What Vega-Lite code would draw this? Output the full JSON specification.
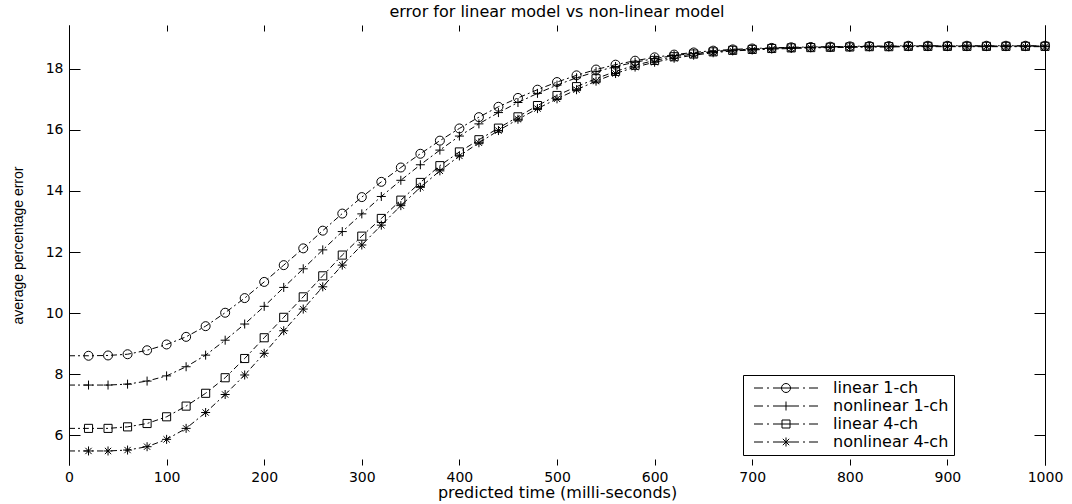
{
  "$schema": "https://vega.github.io/schema/vega-lite/v6.json",
  "width": 976,
  "height": 440,
  "autosize": {"type": "none"},
  "padding": {"left": 69, "top": 25, "right": 27, "bottom": 39},
  "background": "white",
  "config": {"view": {"stroke": null}, "font": "DejaVu Sans"},
  "title": {"text": "error for linear model vs non-linear model", "font": "DejaVu Sans", "fontSize": 16, "fontWeight": "normal", "color": "black", "anchor": "middle", "offset": 5},
  "data": {"values": [
    {"t": 0, "linear 1-ch": 8.60, "nonlinear 1-ch": 7.64, "linear 4-ch": 6.22, "nonlinear 4-ch": 5.48},
    {"t": 20, "linear 1-ch": 8.60, "nonlinear 1-ch": 7.64, "linear 4-ch": 6.22, "nonlinear 4-ch": 5.48},
    {"t": 40, "linear 1-ch": 8.61, "nonlinear 1-ch": 7.64, "linear 4-ch": 6.22, "nonlinear 4-ch": 5.48},
    {"t": 60, "linear 1-ch": 8.65, "nonlinear 1-ch": 7.67, "linear 4-ch": 6.27, "nonlinear 4-ch": 5.51},
    {"t": 80, "linear 1-ch": 8.78, "nonlinear 1-ch": 7.77, "linear 4-ch": 6.38, "nonlinear 4-ch": 5.62},
    {"t": 100, "linear 1-ch": 8.97, "nonlinear 1-ch": 7.94, "linear 4-ch": 6.60, "nonlinear 4-ch": 5.86},
    {"t": 120, "linear 1-ch": 9.22, "nonlinear 1-ch": 8.24, "linear 4-ch": 6.95, "nonlinear 4-ch": 6.22},
    {"t": 140, "linear 1-ch": 9.57, "nonlinear 1-ch": 8.62, "linear 4-ch": 7.37, "nonlinear 4-ch": 6.74},
    {"t": 160, "linear 1-ch": 10.01, "nonlinear 1-ch": 9.11, "linear 4-ch": 7.88, "nonlinear 4-ch": 7.33},
    {"t": 180, "linear 1-ch": 10.49, "nonlinear 1-ch": 9.64, "linear 4-ch": 8.51, "nonlinear 4-ch": 7.97},
    {"t": 200, "linear 1-ch": 11.02, "nonlinear 1-ch": 10.22, "linear 4-ch": 9.19, "nonlinear 4-ch": 8.68},
    {"t": 220, "linear 1-ch": 11.57, "nonlinear 1-ch": 10.84, "linear 4-ch": 9.86, "nonlinear 4-ch": 9.42},
    {"t": 240, "linear 1-ch": 12.12, "nonlinear 1-ch": 11.45, "linear 4-ch": 10.53, "nonlinear 4-ch": 10.13},
    {"t": 260, "linear 1-ch": 12.70, "nonlinear 1-ch": 12.07, "linear 4-ch": 11.22, "nonlinear 4-ch": 10.86},
    {"t": 280, "linear 1-ch": 13.26, "nonlinear 1-ch": 12.67, "linear 4-ch": 11.90, "nonlinear 4-ch": 11.57},
    {"t": 300, "linear 1-ch": 13.80, "nonlinear 1-ch": 13.25, "linear 4-ch": 12.52, "nonlinear 4-ch": 12.23},
    {"t": 320, "linear 1-ch": 14.30, "nonlinear 1-ch": 13.82, "linear 4-ch": 13.10, "nonlinear 4-ch": 12.88},
    {"t": 340, "linear 1-ch": 14.77, "nonlinear 1-ch": 14.35, "linear 4-ch": 13.70, "nonlinear 4-ch": 13.52},
    {"t": 360, "linear 1-ch": 15.22, "nonlinear 1-ch": 14.86, "linear 4-ch": 14.28, "nonlinear 4-ch": 14.12},
    {"t": 380, "linear 1-ch": 15.65, "nonlinear 1-ch": 15.34, "linear 4-ch": 14.83, "nonlinear 4-ch": 14.66},
    {"t": 400, "linear 1-ch": 16.05, "nonlinear 1-ch": 15.80, "linear 4-ch": 15.28, "nonlinear 4-ch": 15.15},
    {"t": 420, "linear 1-ch": 16.42, "nonlinear 1-ch": 16.20, "linear 4-ch": 15.68, "nonlinear 4-ch": 15.58},
    {"t": 440, "linear 1-ch": 16.76, "nonlinear 1-ch": 16.57, "linear 4-ch": 16.06, "nonlinear 4-ch": 15.98},
    {"t": 460, "linear 1-ch": 17.05, "nonlinear 1-ch": 16.90, "linear 4-ch": 16.43, "nonlinear 4-ch": 16.35},
    {"t": 480, "linear 1-ch": 17.32, "nonlinear 1-ch": 17.20, "linear 4-ch": 16.80, "nonlinear 4-ch": 16.70},
    {"t": 500, "linear 1-ch": 17.57, "nonlinear 1-ch": 17.47, "linear 4-ch": 17.13, "nonlinear 4-ch": 17.02},
    {"t": 520, "linear 1-ch": 17.79, "nonlinear 1-ch": 17.71, "linear 4-ch": 17.42, "nonlinear 4-ch": 17.32},
    {"t": 540, "linear 1-ch": 17.98, "nonlinear 1-ch": 17.91, "linear 4-ch": 17.68, "nonlinear 4-ch": 17.60},
    {"t": 560, "linear 1-ch": 18.14, "nonlinear 1-ch": 18.08, "linear 4-ch": 17.92, "nonlinear 4-ch": 17.85},
    {"t": 580, "linear 1-ch": 18.27, "nonlinear 1-ch": 18.22, "linear 4-ch": 18.12, "nonlinear 4-ch": 18.06},
    {"t": 600, "linear 1-ch": 18.38, "nonlinear 1-ch": 18.34, "linear 4-ch": 18.28, "nonlinear 4-ch": 18.22},
    {"t": 620, "linear 1-ch": 18.47, "nonlinear 1-ch": 18.44, "linear 4-ch": 18.40, "nonlinear 4-ch": 18.35},
    {"t": 640, "linear 1-ch": 18.54, "nonlinear 1-ch": 18.51, "linear 4-ch": 18.49, "nonlinear 4-ch": 18.45},
    {"t": 660, "linear 1-ch": 18.60, "nonlinear 1-ch": 18.57, "linear 4-ch": 18.56, "nonlinear 4-ch": 18.53},
    {"t": 680, "linear 1-ch": 18.64, "nonlinear 1-ch": 18.62, "linear 4-ch": 18.61, "nonlinear 4-ch": 18.59},
    {"t": 700, "linear 1-ch": 18.67, "nonlinear 1-ch": 18.65, "linear 4-ch": 18.64, "nonlinear 4-ch": 18.62},
    {"t": 720, "linear 1-ch": 18.69, "nonlinear 1-ch": 18.68, "linear 4-ch": 18.67, "nonlinear 4-ch": 18.65},
    {"t": 740, "linear 1-ch": 18.71, "nonlinear 1-ch": 18.70, "linear 4-ch": 18.69, "nonlinear 4-ch": 18.67},
    {"t": 760, "linear 1-ch": 18.72, "nonlinear 1-ch": 18.71, "linear 4-ch": 18.70, "nonlinear 4-ch": 18.69},
    {"t": 780, "linear 1-ch": 18.73, "nonlinear 1-ch": 18.72, "linear 4-ch": 18.71, "nonlinear 4-ch": 18.70},
    {"t": 800, "linear 1-ch": 18.74, "nonlinear 1-ch": 18.73, "linear 4-ch": 18.72, "nonlinear 4-ch": 18.71},
    {"t": 820, "linear 1-ch": 18.75, "nonlinear 1-ch": 18.74, "linear 4-ch": 18.73, "nonlinear 4-ch": 18.72},
    {"t": 840, "linear 1-ch": 18.75, "nonlinear 1-ch": 18.74, "linear 4-ch": 18.73, "nonlinear 4-ch": 18.72},
    {"t": 860, "linear 1-ch": 18.76, "nonlinear 1-ch": 18.75, "linear 4-ch": 18.74, "nonlinear 4-ch": 18.73},
    {"t": 880, "linear 1-ch": 18.76, "nonlinear 1-ch": 18.75, "linear 4-ch": 18.74, "nonlinear 4-ch": 18.73},
    {"t": 900, "linear 1-ch": 18.76, "nonlinear 1-ch": 18.75, "linear 4-ch": 18.74, "nonlinear 4-ch": 18.73},
    {"t": 920, "linear 1-ch": 18.76, "nonlinear 1-ch": 18.75, "linear 4-ch": 18.74, "nonlinear 4-ch": 18.73},
    {"t": 940, "linear 1-ch": 18.76, "nonlinear 1-ch": 18.75, "linear 4-ch": 18.74, "nonlinear 4-ch": 18.73},
    {"t": 960, "linear 1-ch": 18.76, "nonlinear 1-ch": 18.75, "linear 4-ch": 18.74, "nonlinear 4-ch": 18.73},
    {"t": 980, "linear 1-ch": 18.76, "nonlinear 1-ch": 18.75, "linear 4-ch": 18.74, "nonlinear 4-ch": 18.73},
    {"t": 1000, "linear 1-ch": 18.76, "nonlinear 1-ch": 18.75, "linear 4-ch": 18.74, "nonlinear 4-ch": 18.73}
  ]},
  "transform": [
    {"fold": ["linear 1-ch", "nonlinear 1-ch", "linear 4-ch", "nonlinear 4-ch"], "as": ["series", "value"]}
  ],
  "layer": [
    {
      "mark": {"type": "line", "color": "black", "strokeWidth": 1, "strokeDash": [6, 3, 2, 3]},
      "encoding": {
        "x": {"field": "t", "type": "quantitative", "scale": {"domain": [0, 1000], "nice": false, "zero": false},
          "axis": {"orient": "bottom", "values": [0, 100, 200, 300, 400, 500, 600, 700, 800, 900, 1000], "format": "d", "tickSize": -6, "tickColor": "black", "tickWidth": 1, "domain": false, "grid": false,
            "labelFont": "DejaVu Sans", "labelFontSize": 14, "labelColor": "black", "labelPadding": 11, "labelFlush": false, "labelOverlap": false,
            "title": "predicted time (milli-seconds)", "titleFont": "DejaVu Sans", "titleFontSize": 16, "titleFontWeight": "normal", "titleColor": "black",
            "titleX": 488, "titleY": 32, "titleAlign": "center", "titleBaseline": "alphabetic"}},
        "y": {"field": "value", "type": "quantitative", "scale": {"domain": [5.02, 19.44], "nice": false, "zero": false},
          "axis": {"orient": "left", "values": [6, 8, 10, 12, 14, 16, 18], "tickSize": -11, "tickColor": "black", "tickWidth": 1, "domain": true, "domainColor": "black", "domainWidth": 1, "grid": false,
            "labelFont": "DejaVu Sans", "labelFontSize": 14, "labelColor": "black", "labelPadding": 17, "labelOverlap": false, "labelFlush": false,
            "title": "average percentage error", "titleFont": "Liberation Sans", "titleFontSize": 14, "titleFontWeight": "normal", "titleColor": "black",
            "titleX": -51, "titleY": 220, "titleAngle": 270, "titleAlign": "center", "titleBaseline": "middle"}},
        "detail": {"field": "series", "type": "nominal"}
      }
    },
    {
      "transform": [{"filter": "datum.t > 0"}],
      "mark": {"type": "point", "filled": false, "color": "black", "strokeWidth": 1, "size": 81, "opacity": 1},
      "encoding": {
        "x": {"field": "t", "type": "quantitative",
          "axis": {"orient": "top", "values": [0, 100, 200, 300, 400, 500, 600, 700, 800, 900, 1000], "tickSize": -6, "tickColor": "black", "tickWidth": 1, "domain": false, "grid": false, "labels": false, "title": null}},
        "y": {"field": "value", "type": "quantitative",
          "axis": {"orient": "right", "values": [6, 8, 10, 12, 14, 16, 18], "tickSize": -11, "tickColor": "black", "tickWidth": 1, "domain": true, "domainColor": "black", "domainWidth": 1, "grid": false, "labels": false, "title": null}},
        "shape": {"field": "series", "type": "nominal",
          "scale": {"domain": ["linear 1-ch", "nonlinear 1-ch", "linear 4-ch", "nonlinear 4-ch"],
            "range": ["M-1,0A1,1 0 1,0 1,0A1,1 0 1,0 -1,0", "M-1,0H1M0,-1V1", "M-0.9,-0.9H0.9V0.9H-0.9Z", "M-1,0H1M0,-1V1M-0.7,-0.7L0.7,0.7M-0.7,0.7L0.7,-0.7"]},
          "legend": null
        }
      }
    },
    {
      "transform": [{"filter": "datum.t == 1000"}],
      "mark": {"type": "point", "filled": false, "color": "black", "strokeWidth": 1, "opacity": 0},
      "encoding": {
        "x": {"field": "t", "type": "quantitative", "axis": null},
        "y": {"field": "value", "type": "quantitative", "axis": null},
        "shape": {"field": "series", "type": "nominal",
          "scale": {"domain": ["linear 1-ch", "nonlinear 1-ch", "linear 4-ch", "nonlinear 4-ch"],
            "range": [
              "M-6.4,0H-4.6M-3.8,0H-3.4M-2.6,0H2.6M3.4,0H3.8M4.6,0H6.4M-0.9,0A0.9,0.9 0 1,0 0.9,0A0.9,0.9 0 1,0 -0.9,0",
              "M-6.4,0H-4.6M-3.8,0H-3.4M-2.6,0H2.6M3.4,0H3.8M4.6,0H6.4M0,-0.9V0.9",
              "M-6.4,0H-4.6M-3.8,0H-3.4M-2.6,0H2.6M3.4,0H3.8M4.6,0H6.4M-0.8,-0.8H0.8V0.8H-0.8Z",
              "M-6.4,0H-4.6M-3.8,0H-3.4M-2.6,0H2.6M3.4,0H3.8M4.6,0H6.4M0,-0.9V0.9M-0.64,-0.64L0.64,0.64M-0.64,0.64L0.64,-0.64"
            ]},
          "legend": {"orient": "none", "legendX": 674, "legendY": 350, "title": null, "strokeColor": "black", "fillColor": "white", "padding": 5,
            "symbolSize": 100, "symbolOffset": 30, "labelOffset": 39, "rowPadding": 2,
            "labelFont": "DejaVu Sans", "labelFontSize": 16, "labelColor": "black",
            "symbolStrokeColor": "black", "symbolFillColor": "transparent", "symbolStrokeWidth": 1, "symbolOpacity": 1}
        }
      }
    }
  ],
  "resolve": {"axis": {"x": "independent", "y": "independent"}, "scale": {"shape": "independent"}}
}
